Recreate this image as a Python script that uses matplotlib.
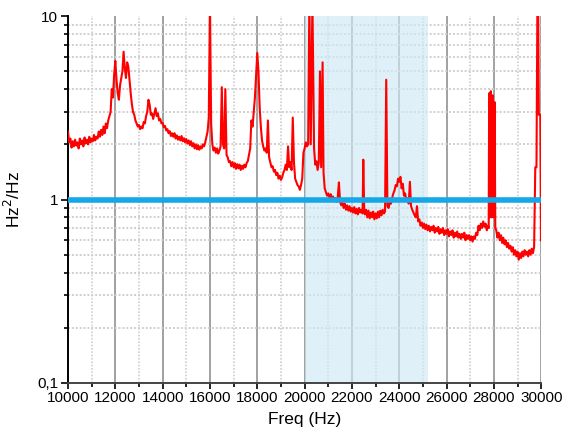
import matplotlib
matplotlib.use("Agg")
import matplotlib.pyplot as plt
from matplotlib.ticker import FixedLocator, FuncFormatter, NullFormatter

plt.rcParams['font.family'] = ['Liberation Sans', 'DejaVu Sans']

# ----------------------------------------------------------------------------
# DATA (doc tu hinh, moi dong ~ mot doan cua pho)
# ----------------------------------------------------------------------------
freq = [
    # 10000 - 11700
    10000, 10050, 10100, 10150, 10200, 10250, 10300, 10350, 10400, 10450,
    10500, 10550, 10600, 10650, 10700, 10750, 10800, 10850, 10900, 10950,
    11000, 11050, 11100, 11150, 11200, 11250, 11300, 11350, 11400, 11450,
    11500, 11550, 11600, 11650, 11700,
    # dinh 12 kHz
    11800, 11850, 11900, 11950, 12000, 12050, 12100, 12150, 12200, 12300,
    12350, 12400, 12450, 12500, 12550, 12600, 12650, 12700, 12750, 12800,
    12850, 12900, 12950, 13000,
    # 13.5 kHz
    13050, 13100, 13150, 13200, 13250, 13300, 13350, 13400, 13450, 13500,
    13550, 13600, 13650, 13700, 13750, 13800, 13850, 13900,
    # 14 - 16 kHz
    13950, 14000, 14050, 14100, 14150, 14200, 14250, 14300, 14350, 14400,
    14450, 14500, 14550, 14600, 14650, 14700, 14750, 14800, 14850, 14900,
    14950, 15000, 15050, 15100, 15150, 15200, 15250, 15300, 15350, 15400,
    15450, 15500, 15550, 15600, 15650, 15700, 15750, 15800, 15850, 15900,
    # vach 16 kHz, 16.5 kHz
    15950, 16000, 16050, 16100, 16150, 16200, 16250, 16300, 16350, 16400,
    16450, 16500, 16550, 16600, 16650, 16700,
    # 16.7 - 17.7 kHz
    16750, 16800, 16850, 16900, 16950, 17000, 17050, 17100, 17150, 17200,
    17250, 17300, 17350, 17400, 17450, 17500, 17550, 17600, 17650,
    # dinh 18 kHz -> 20 kHz
    17700, 17750, 17800, 17850, 17900, 17950, 18000, 18050, 18100, 18150,
    18200, 18250, 18300, 18350, 18400, 18450, 18500, 18550, 18600, 18650,
    18700, 18750, 18800, 18850, 18900, 18950, 19000, 19050, 19100, 19150,
    19200, 19250, 19300, 19350, 19400, 19450, 19500, 19550, 19600, 19650,
    19700, 19750, 19800, 19850, 19900, 19950, 20000, 20050, 20100, 20150,
    # vach 20.2 - 20.8 kHz
    20200, 20260, 20330, 20400, 20450, 20500, 20550, 20600, 20650, 20700,
    20760, 20800, 20850,
    # 20.9 - 23.4 kHz
    20900, 20950, 21000, 21050, 21100, 21150, 21200, 21250, 21300, 21350,
    21400, 21450, 21500, 21550, 21600, 21650, 21700, 21750, 21800, 21850,
    21900, 21950, 22000, 22050, 22100, 22150, 22200, 22250, 22300, 22350,
    22400, 22450, 22480, 22520, 22550, 22600, 22650, 22700, 22750, 22800,
    22850, 22900, 22950, 23000, 23050, 23100, 23150, 23200, 23250, 23300,
    23350, 23400,
    # 23.45 - 24.8 kHz
    23450, 23500, 23550, 23600, 23650, 23700, 23750, 23800, 23850, 23900,
    23950, 24000, 24050, 24100, 24150, 24200, 24250, 24300, 24350, 24400,
    24450, 24500, 24550, 24600, 24650, 24700, 24750, 24800,
    # 24.85 - 27.75 kHz
    24850, 24900, 24950, 25000, 25050, 25100, 25150, 25200, 25250, 25300,
    25350, 25400, 25450, 25500, 25550, 25600, 25650, 25700, 25750, 25800,
    25850, 25900, 25950, 26000, 26050, 26100, 26150, 26200, 26250, 26300,
    26350, 26400, 26450, 26500, 26550, 26600, 26650, 26700, 26750, 26800,
    26850, 26900, 26950, 27000, 27050, 27100, 27150, 27200, 27250, 27300,
    27350, 27400, 27450, 27500, 27550, 27600, 27650, 27700, 27750,
    # khoi 28 kHz
    27780, 27800, 27830, 27870, 27900, 27950, 27980, 28030, 28060,
    # 28.1 - 29.7 kHz
    28100, 28150, 28200, 28250, 28300, 28350, 28400, 28450, 28500, 28550,
    28600, 28650, 28700, 28750, 28800, 28850, 28900, 28950, 29000, 29050,
    29100, 29150, 29200, 29250, 29300, 29350, 29400, 29450, 29500, 29550,
    29600, 29650, 29700,
    # vach cuoi
    29750, 29800, 29840, 29870, 29900, 29960, 29990,
]
psd = [
    # 10000 - 11700
    2.35, 2.05, 2.15, 1.92, 2.08, 1.95, 2.12, 1.97, 2.05, 1.90,
    2.15, 2.00, 2.10, 1.95, 2.18, 2.02, 2.12, 2.00, 2.20, 2.05,
    2.15, 2.08, 2.25, 2.10, 2.20, 2.15, 2.35, 2.20, 2.40, 2.25,
    2.50, 2.30, 2.60, 2.45, 2.70,
    # dinh 12 kHz
    3.00, 4.00, 3.60, 4.80, 5.70, 4.50, 3.80, 3.50, 4.20, 5.00,
    6.40, 5.20, 4.60, 5.60, 5.30, 4.50, 3.80, 3.30, 3.00, 2.90,
    2.70, 2.60, 2.50, 2.55,
    # 13.5 kHz
    2.42, 2.50, 2.45, 2.65, 2.60, 2.85, 3.00, 3.50, 3.30, 2.90,
    2.95, 2.75, 2.95, 3.15, 2.85, 2.95, 2.70, 2.75,
    # 14 - 16 kHz
    2.60, 2.62, 2.48, 2.52, 2.38, 2.42, 2.30, 2.36, 2.22, 2.30,
    2.20, 2.30, 2.15, 2.24, 2.12, 2.20, 2.10, 2.22, 2.08, 2.16,
    2.05, 2.14, 2.02, 2.10, 1.98, 2.08, 1.95, 2.03, 1.90, 2.00,
    1.88, 1.98, 1.87, 1.95, 1.90, 2.00, 1.95, 2.05, 2.20, 2.35,
    # vach 16 kHz, 16.5 kHz
    2.80, 12.0, 2.60, 2.00, 1.85, 1.92, 1.80, 1.90, 1.78, 1.85,
    1.95, 4.10, 2.00, 1.90, 4.00, 1.75,
    # 16.7 - 17.7 kHz
    1.70, 1.60, 1.62, 1.52, 1.60, 1.50, 1.58, 1.47, 1.56, 1.48,
    1.55, 1.45, 1.53, 1.47, 1.55, 1.50, 1.58, 1.62, 1.75,
    # dinh 18 kHz -> 20 kHz
    1.90, 2.70, 2.50, 3.00, 3.60, 4.80, 6.30, 5.00, 3.20, 2.50,
    2.10, 1.95, 1.85, 1.90, 1.80, 2.70, 1.70, 1.60, 1.50, 1.52,
    1.42, 1.45, 1.36, 1.40, 1.30, 1.35, 1.28, 1.32, 1.40, 1.45,
    1.55, 1.45, 1.95, 1.50, 1.60, 1.45, 2.80, 1.60, 1.30, 1.25,
    1.20, 1.18, 1.13, 1.20, 1.30, 1.80, 1.90, 2.05, 1.95, 2.00,
    # vach 20.2 - 20.8 kHz
    12.0, 2.00, 12.0, 1.90, 1.55, 1.62, 1.45, 1.60, 5.00, 1.50,
    5.60, 1.40, 1.15,
    # 20.9 - 23.4 kHz
    1.10, 1.05, 1.08, 1.02, 1.07, 1.00, 1.04, 0.98, 1.02, 0.97,
    1.03, 1.24, 0.97, 0.93, 0.96, 0.90, 0.95, 0.88, 0.93, 0.87,
    0.92, 0.86, 0.90, 0.85, 0.91, 0.84, 0.89, 0.83, 0.90, 0.85,
    0.88, 0.84, 1.65, 0.86, 0.83, 0.88, 0.80, 0.87, 0.79, 0.85,
    0.80, 0.86, 0.78, 0.84, 0.79, 0.86, 0.80, 0.87, 0.82, 0.88,
    0.84, 0.86,
    # 23.45 - 24.8 kHz
    4.50, 0.92, 0.90, 0.97, 0.95, 1.02, 1.08, 1.12, 1.20, 1.18,
    1.30, 1.25, 1.33, 1.15, 1.22, 1.05, 1.08, 0.98, 1.02, 0.95,
    1.25, 0.92, 0.88, 0.85, 0.82, 0.80, 0.92, 0.76,
    # 24.85 - 27.75 kHz
    0.78, 0.72, 0.75, 0.70, 0.74, 0.69, 0.73, 0.68, 0.72, 0.67,
    0.71, 0.68, 0.72, 0.66, 0.70, 0.67, 0.71, 0.65, 0.69, 0.66,
    0.70, 0.64, 0.68, 0.65, 0.69, 0.63, 0.67, 0.64, 0.68, 0.62,
    0.66, 0.63, 0.67, 0.62, 0.65, 0.61, 0.65, 0.62, 0.66, 0.60,
    0.64, 0.61, 0.64, 0.60, 0.63, 0.59, 0.63, 0.61, 0.66, 0.64,
    0.72, 0.68, 0.74, 0.70, 0.76, 0.71, 0.74, 0.68, 0.72,
    # khoi 28 kHz
    0.70, 3.80, 0.80, 3.90, 0.80, 3.70, 0.80, 3.40, 0.70,
    # 28.1 - 29.7 kHz
    0.68, 0.62, 0.66, 0.60, 0.64, 0.58, 0.62, 0.57, 0.60, 0.55,
    0.58, 0.54, 0.56, 0.52, 0.55, 0.50, 0.53, 0.49, 0.52, 0.47,
    0.51, 0.48, 0.52, 0.49, 0.53, 0.50, 0.52, 0.49, 0.53, 0.50,
    0.54, 0.51, 0.55,
    # vach cuoi
    1.50, 1.50, 12.0, 12.0, 2.90, 2.90, 0.60,
]
assert len(freq) == len(psd)

ref_level = 1.0
band = (20000, 25200)

xticks = [10000, 12000, 14000, 16000, 18000, 20000, 22000, 24000, 26000, 28000, 30000]
yticks = [0.1, 1, 10]
ytick_labels = {0.1: "0,1", 1: "1", 10: "10"}

# ----------------------------------------------------------------------------
# PLOT
# ----------------------------------------------------------------------------
fig = plt.figure(figsize=(5.62, 4.42), dpi=100)
ax = fig.add_axes([0.121, 0.1335, 0.842, 0.830])

ax.set_yscale("log")
ax.set_xlim(10000, 30000)
ax.set_ylim(0.1, 10)

minor_x = list(range(11000, 30000, 2000))
ax.xaxis.set_major_locator(FixedLocator(xticks))
ax.xaxis.set_minor_locator(FixedLocator(minor_x))
ax.yaxis.set_major_locator(FixedLocator(yticks))
minor_y = [m * 10.0 ** e for e in (-1, 0) for m in range(2, 10)]
ax.yaxis.set_minor_locator(FixedLocator(minor_y))
ax.yaxis.set_major_formatter(FuncFormatter(lambda v, p: ytick_labels.get(round(v, 3), "")))
ax.yaxis.set_minor_formatter(NullFormatter())

ax.grid(True, which="major", axis="x", color="#9a9a9a", lw=1.3, zorder=0)
ax.grid(True, which="minor", axis="x", color="#cfcfcf", lw=1.2, ls=(0, (1, 1)), zorder=0)
ax.grid(True, which="minor", axis="y", color="#cfcfcf", lw=1.4, ls=(0, (1, 1)), zorder=0)
ax.set_axisbelow(True)

ax.axvspan(band[0], band[1], color="#cfe9f6", alpha=0.65, lw=0, zorder=1)

ax.plot(freq, psd, color="#ff0000", lw=1.5, zorder=3)
ax.axhline(ref_level, color="#16a7e8", lw=4.0, zorder=4)

for s in ("top", "right"):
    ax.spines[s].set_visible(False)
ax.spines["left"].set_linewidth(1.4)
ax.spines["bottom"].set_linewidth(1.4)
ax.spines["bottom"].set_color("#444444")

ax.tick_params(axis="both", which="major", direction="out", length=5, width=1.2,
               labelsize=11, pad=2)
ax.tick_params(axis="both", which="minor", direction="out", length=3, width=1.2)
ax.tick_params(axis="x", which="major", length=4)

ax.set_xlabel("Freq (Hz)", fontsize=12.5, labelpad=5)
ax.set_ylabel("Hz$^2$/Hz", fontsize=12.5, labelpad=10)

fig.savefig("out.png", dpi=100)
plt.close(fig)
